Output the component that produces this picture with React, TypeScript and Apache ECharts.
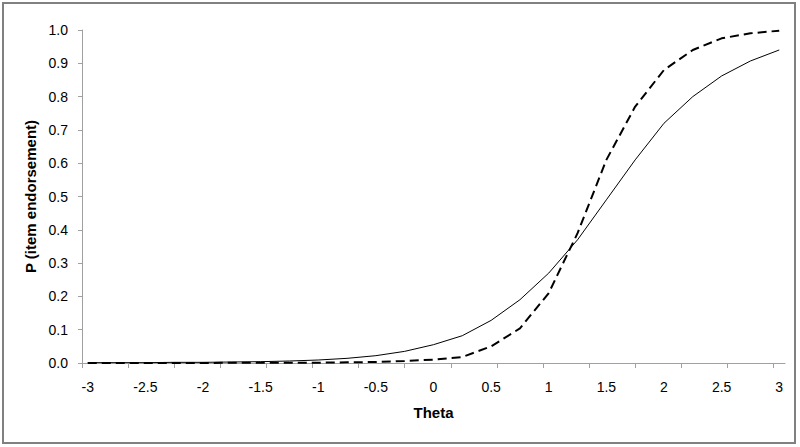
import React, { useEffect, useRef } from "react";
import * as echarts from "echarts";

const thetaValues = [
  -3, -2.75, -2.5, -2.25, -2, -1.75, -1.5, -1.25, -1, -0.75, -0.5, -0.25, 0,
  0.25, 0.5, 0.75, 1, 1.25, 1.5, 1.75, 2, 2.25, 2.5, 2.75, 3,
];
const solidCurve = [
  0.001, 0.001, 0.001, 0.002, 0.002, 0.003, 0.004, 0.006, 0.009, 0.014, 0.022,
  0.035, 0.055, 0.082, 0.128, 0.19, 0.27, 0.37, 0.49, 0.61, 0.72, 0.8, 0.862,
  0.907, 0.94,
];
const dashedCurve = [
  0.0, 0.0, 0.0, 0.0, 0.0, 0.001, 0.001, 0.001, 0.001, 0.002, 0.003, 0.006,
  0.01, 0.018, 0.05, 0.104, 0.21, 0.39, 0.61, 0.77, 0.88, 0.94, 0.975, 0.99,
  0.998,
];
const xTickLabels = [-3, -2.5, -2, -1.5, -1, -0.5, 0, 0.5, 1, 1.5, 2, 2.5, 3];
const xTickMarks = [
  -3.05, -2.65, -2.25, -1.85, -1.45, -1.05, -0.65, -0.25, 0.15, 0.55, 0.95,
  1.35, 1.75, 2.15, 2.55, 2.95,
];
const xTitle = "Theta";
const yTitle = "P (item endorsement)";

const FONT = "'Liberation Sans', Arial, sans-serif";

export default function App() {
  const ref = useRef<HTMLDivElement>(null);
  useEffect(() => {
    if (!ref.current) return;
    const chart = echarts.init(ref.current, null, { renderer: "svg" });
    chart.setOption({
      animation: false,
      backgroundColor: "#ffffff",
      textStyle: { fontFamily: FONT },
      graphic: [
        {
          type: "rect",
          shape: { x: 3, y: 3, width: 792, height: 440 },
          style: { fill: "none", stroke: "#808080", lineWidth: 2 },
          silent: true,
        },
      ],
      grid: { left: 82, right: 15, top: 30, bottom: 84 },
      xAxis: {
        type: "value",
        min: -3.05,
        max: 3.05,
        name: xTitle,
        nameLocation: "middle",
        nameGap: 42,
        nameTextStyle: { fontSize: 15, fontWeight: "bold", color: "#000", fontFamily: FONT },
        axisLine: { show: true, onZero: false, lineStyle: { color: "#a0a0a0", width: 1 } },
        axisTick: {
          show: true,
          customValues: xTickMarks,
          length: 5,
          lineStyle: { color: "#a0a0a0" },
        },
        axisLabel: {
          customValues: xTickLabels,
          margin: 17,
          fontSize: 14,
          color: "#000",
          fontFamily: FONT,
          formatter: (v: number) => String(v),
        },
        splitLine: { show: false },
      },
      yAxis: {
        type: "value",
        min: 0,
        max: 1,
        interval: 0.1,
        name: yTitle,
        nameLocation: "middle",
        nameGap: 41,
        nameTextStyle: { fontSize: 15, fontWeight: "bold", color: "#000", fontFamily: FONT },
        axisLine: { show: true, onZero: false, lineStyle: { color: "#a0a0a0", width: 1 } },
        axisTick: { show: true, length: 4, lineStyle: { color: "#a0a0a0" } },
        axisLabel: {
          margin: 14,
          fontSize: 14,
          color: "#000",
          fontFamily: FONT,
          formatter: (v: number) => v.toFixed(1),
        },
        splitLine: { show: false },
      },
      series: [
        {
          type: "line",
          data: thetaValues.map((t, i) => [t, solidCurve[i]]),
          showSymbol: false,
          symbol: "none",
          lineStyle: { color: "#000", width: 1 },
        },
        {
          type: "line",
          data: thetaValues.map((t, i) => [t, dashedCurve[i]]),
          showSymbol: false,
          symbol: "none",
          lineStyle: { color: "#000", width: 2, type: [9, 5] },
        },
      ],
    });
    return () => chart.dispose();
  }, []);
  return (
    <div
      ref={ref}
      style={{ position: "fixed", left: 0, top: 0, width: 800, height: 447 }}
    />
  );
}
